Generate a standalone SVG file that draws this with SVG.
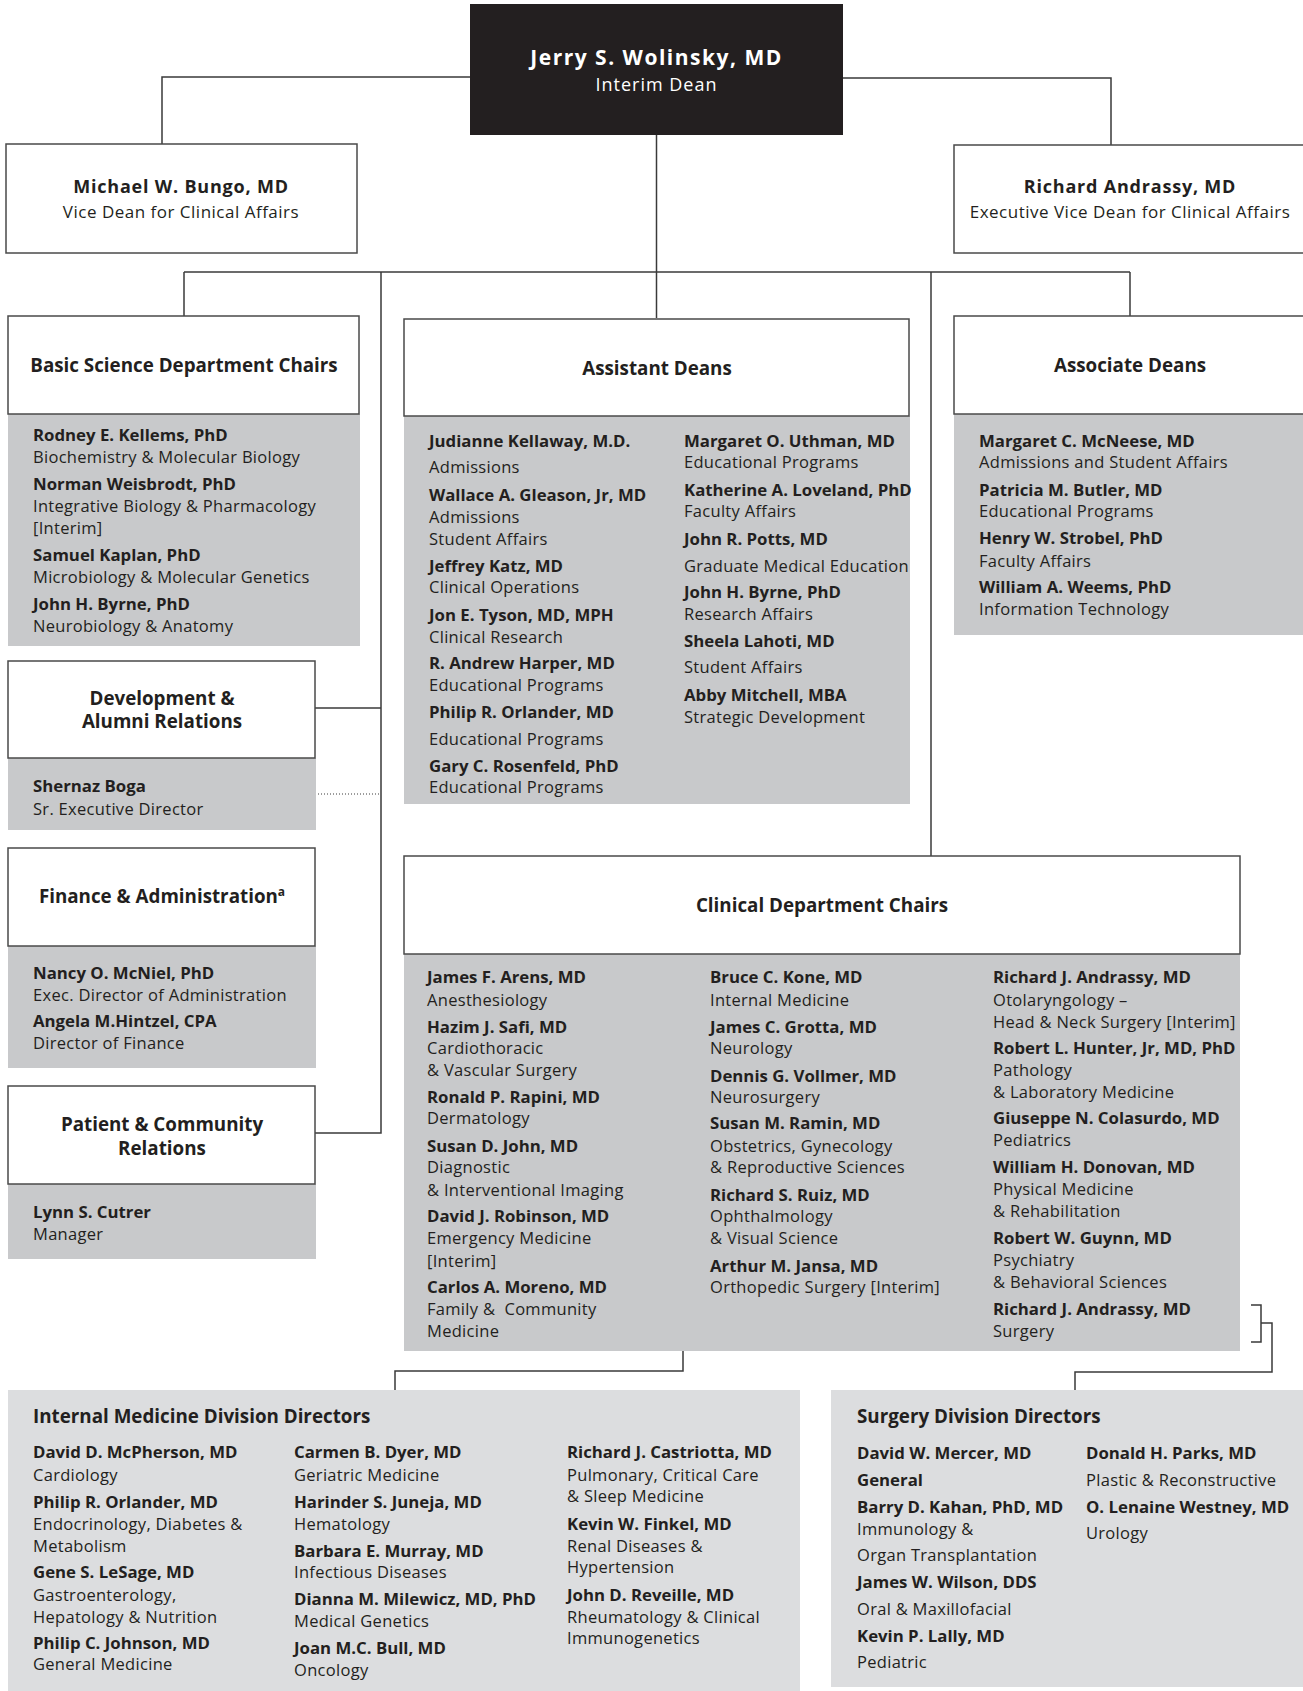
<svg xmlns="http://www.w3.org/2000/svg" width="1303" height="1691" viewBox="0 0 1303 1691">
<style>
text{font-family:"Open Sans","Noto Sans","Liberation Sans",sans-serif;fill:#231f20}
.n{font-size:16.8px;font-weight:bold}
.d{font-size:16.5px;letter-spacing:0.3px}
.t{font-size:18.8px;font-weight:bold}
.c{text-anchor:middle}
.hdr{fill:#fff;stroke:#4a4a4a;stroke-width:1.5}
.body{fill:#c8c9cb}
.div{fill:#dcdddf}
.ln{fill:none;stroke:#3a3a3a;stroke-width:1.5}
</style>
<rect width="1303" height="1691" fill="#fff"/>

<g id="connectors">
<path class="ln" d="M470 77 H162 V144"/>
<path class="ln" d="M843 78 H1111 V145"/>
<path class="ln" d="M656.5 135 V318"/>
<path class="ln" d="M184 272 H1130"/>
<path class="ln" d="M184 272 V316"/>
<path class="ln" d="M1130 272 V316"/>
<path class="ln" d="M381 272 V1133 H315"/>
<path class="ln" d="M381 708 H315"/>
<path class="ln" d="M931 272 V856"/>
<path d="M315 794 H381" fill="none" stroke="#3a3a3a" stroke-width="1" stroke-dasharray="1 2"/>
<path class="ln" d="M706 972 H696 V1008 H706"/>
<path class="ln" d="M696 989 H683 V1371 H395 V1390"/>
<path class="ln" d="M1251 1305 H1261 V1342 H1251"/>
<path class="ln" d="M1261 1323 H1272 V1372 H1075 V1390"/>
</g>

<g id="dean">
<rect x="470" y="4" width="373" height="131" fill="#231f20"/>
<text x="656.5" y="65" class="c" style="font-size:21px;font-weight:bold;fill:#fff;letter-spacing:1.5px">Jerry S. Wolinsky, MD</text>
<text x="656.5" y="91" class="c" style="font-size:18px;fill:#fff;letter-spacing:1px">Interim Dean</text>
</g>

<g id="bungo">
<rect x="6" y="144" width="351" height="109" class="hdr"/>
<text x="181" y="193" class="c" style="font-size:18px;font-weight:bold;letter-spacing:0.8px">Michael W. Bungo, MD</text>
<text x="181" y="218" class="c" style="font-size:17px;letter-spacing:0.5px">Vice Dean for Clinical Affairs</text>
</g>

<g id="andrassy">
<rect x="954" y="145" width="360" height="108" class="hdr"/>
<text x="1130" y="193" class="c" style="font-size:18px;font-weight:bold;letter-spacing:0.8px">Richard Andrassy, MD</text>
<text x="1130" y="218" class="c" style="font-size:17px;letter-spacing:0.5px">Executive Vice Dean for Clinical Affairs</text>
</g>

<g id="basic-science">
<rect x="8" y="414" width="352" height="232" class="body"/>
<rect x="8" y="316" width="351" height="98" class="hdr"/>
<text x="184" y="372" class="t c">Basic Science Department Chairs</text>
<text class="n" x="33" y="441">Rodney E. Kellems, PhD</text>
<text class="d" x="33" y="463">Biochemistry &amp; Molecular Biology</text>
<text class="n" x="33" y="490">Norman Weisbrodt, PhD</text>
<text class="d" x="33" y="512">Integrative Biology &amp; Pharmacology</text>
<text class="d" x="33" y="534">[Interim]</text>
<text class="n" x="33" y="561">Samuel Kaplan, PhD</text>
<text class="d" x="33" y="583">Microbiology &amp; Molecular Genetics</text>
<text class="n" x="33" y="610">John H. Byrne, PhD</text>
<text class="d" x="33" y="632">Neurobiology &amp; Anatomy</text>
</g>

<g id="development">
<rect x="8" y="758" width="308" height="72" class="body"/>
<rect x="8" y="661" width="307" height="97" class="hdr"/>
<text x="162" y="705" class="t c">Development &amp;</text>
<text x="162" y="728" class="t c">Alumni Relations</text>
<text class="n" x="33" y="792">Shernaz Boga</text>
<text class="d" x="33" y="815">Sr. Executive Director</text>
</g>

<g id="finance">
<rect x="8" y="946" width="308" height="122" class="body"/>
<rect x="8" y="848" width="307" height="98" class="hdr"/>
<text x="162" y="903" class="t c">Finance &amp; Administration<tspan style="font-size:12px" dy="-7">a</tspan></text>
<text class="n" x="33" y="979">Nancy O. McNiel, PhD</text>
<text class="d" x="33" y="1001">Exec. Director of Administration</text>
<text class="n" x="33" y="1027">Angela M.Hintzel, CPA</text>
<text class="d" x="33" y="1049">Director of Finance</text>
</g>

<g id="patient">
<rect x="8" y="1184" width="308" height="75" class="body"/>
<rect x="8" y="1086" width="307" height="98" class="hdr"/>
<text x="162" y="1131" class="t c">Patient &amp; Community</text>
<text x="162" y="1155" class="t c">Relations</text>
<text class="n" x="33" y="1218">Lynn S. Cutrer</text>
<text class="d" x="33" y="1240">Manager</text>
</g>

<g id="assistant-deans">
<rect x="404" y="416" width="506" height="388" class="body"/>
<rect x="404" y="319" width="505" height="97" class="hdr"/>
<text x="657" y="375" class="t c">Assistant Deans</text>
<text class="n" x="429" y="447">Judianne Kellaway, M.D.</text>
<text class="d" x="429" y="473">Admissions</text>
<text class="n" x="429" y="501">Wallace A. Gleason, Jr, MD</text>
<text class="d" x="429" y="523">Admissions</text>
<text class="d" x="429" y="545">Student Affairs</text>
<text class="n" x="429" y="572">Jeffrey Katz, MD</text>
<text class="d" x="429" y="593">Clinical Operations</text>
<text class="n" x="429" y="621">Jon E. Tyson, MD, MPH</text>
<text class="d" x="429" y="643">Clinical Research</text>
<text class="n" x="429" y="669">R. Andrew Harper, MD</text>
<text class="d" x="429" y="691">Educational Programs</text>
<text class="n" x="429" y="718">Philip R. Orlander, MD</text>
<text class="d" x="429" y="745">Educational Programs</text>
<text class="n" x="429" y="772">Gary C. Rosenfeld, PhD</text>
<text class="d" x="429" y="793">Educational Programs</text>
<text class="n" x="684" y="447">Margaret O. Uthman, MD</text>
<text class="d" x="684" y="468">Educational Programs</text>
<text class="n" x="684" y="496">Katherine A. Loveland, PhD</text>
<text class="d" x="684" y="517">Faculty Affairs</text>
<text class="n" x="684" y="545">John R. Potts, MD</text>
<text class="d" x="684" y="572">Graduate Medical Education</text>
<text class="n" x="684" y="598">John H. Byrne, PhD</text>
<text class="d" x="684" y="620">Research Affairs</text>
<text class="n" x="684" y="647">Sheela Lahoti, MD</text>
<text class="d" x="684" y="673">Student Affairs</text>
<text class="n" x="684" y="701">Abby Mitchell, MBA</text>
<text class="d" x="684" y="723">Strategic Development</text>
</g>

<g id="associate-deans">
<rect x="954" y="414" width="360" height="221" class="body"/>
<rect x="954" y="316" width="360" height="98" class="hdr"/>
<text x="1130" y="372" class="t c">Associate Deans</text>
<text class="n" x="979" y="447">Margaret C. McNeese, MD</text>
<text class="d" x="979" y="468">Admissions and Student Affairs</text>
<text class="n" x="979" y="496">Patricia M. Butler, MD</text>
<text class="d" x="979" y="517">Educational Programs</text>
<text class="n" x="979" y="544">Henry W. Strobel, PhD</text>
<text class="d" x="979" y="567">Faculty Affairs</text>
<text class="n" x="979" y="593">William A. Weems, PhD</text>
<text class="d" x="979" y="615">Information Technology</text>
</g>

<g id="clinical-chairs">
<rect x="404" y="954" width="836" height="397" class="body"/>
<rect x="404" y="856" width="836" height="98" class="hdr"/>
<text x="822" y="912" class="t c">Clinical Department Chairs</text>
<text class="n" x="427" y="983">James F. Arens, MD</text>
<text class="d" x="427" y="1006">Anesthesiology</text>
<text class="n" x="427" y="1033">Hazim J. Safi, MD</text>
<text class="d" x="427" y="1054">Cardiothoracic</text>
<text class="d" x="427" y="1076">&amp; Vascular Surgery</text>
<text class="n" x="427" y="1103">Ronald P. Rapini, MD</text>
<text class="d" x="427" y="1124">Dermatology</text>
<text class="n" x="427" y="1152">Susan D. John, MD</text>
<text class="d" x="427" y="1173">Diagnostic</text>
<text class="d" x="427" y="1196">&amp; Interventional Imaging</text>
<text class="n" x="427" y="1222">David J. Robinson, MD</text>
<text class="d" x="427" y="1244">Emergency Medicine</text>
<text class="d" x="427" y="1267">[Interim]</text>
<text class="n" x="427" y="1293">Carlos A. Moreno, MD</text>
<text class="d" x="427" y="1315" xml:space="preserve">Family &amp;  Community</text>
<text class="d" x="427" y="1337">Medicine</text>
<text class="n" x="710" y="983">Bruce C. Kone, MD</text>
<text class="d" x="710" y="1006">Internal Medicine</text>
<text class="n" x="710" y="1033">James C. Grotta, MD</text>
<text class="d" x="710" y="1054">Neurology</text>
<text class="n" x="710" y="1082">Dennis G. Vollmer, MD</text>
<text class="d" x="710" y="1103">Neurosurgery</text>
<text class="n" x="710" y="1129">Susan M. Ramin, MD</text>
<text class="d" x="710" y="1152">Obstetrics, Gynecology</text>
<text class="d" x="710" y="1173">&amp; Reproductive Sciences</text>
<text class="n" x="710" y="1201">Richard S. Ruiz, MD</text>
<text class="d" x="710" y="1222">Ophthalmology</text>
<text class="d" x="710" y="1244">&amp; Visual Science</text>
<text class="n" x="710" y="1272">Arthur M. Jansa, MD</text>
<text class="d" x="710" y="1293">Orthopedic Surgery [Interim]</text>
<text class="n" x="993" y="983">Richard J. Andrassy, MD</text>
<text class="d" x="993" y="1006">Otolaryngology –</text>
<text class="d" x="993" y="1028">Head &amp; Neck Surgery [Interim]</text>
<text class="n" x="993" y="1054">Robert L. Hunter, Jr, MD, PhD</text>
<text class="d" x="993" y="1076">Pathology</text>
<text class="d" x="993" y="1098">&amp; Laboratory Medicine</text>
<text class="n" x="993" y="1124">Giuseppe N. Colasurdo, MD</text>
<text class="d" x="993" y="1146">Pediatrics</text>
<text class="n" x="993" y="1173">William H. Donovan, MD</text>
<text class="d" x="993" y="1195">Physical Medicine</text>
<text class="d" x="993" y="1217">&amp; Rehabilitation</text>
<text class="n" x="993" y="1244">Robert W. Guynn, MD</text>
<text class="d" x="993" y="1266">Psychiatry</text>
<text class="d" x="993" y="1288">&amp; Behavioral Sciences</text>
<text class="n" x="993" y="1315">Richard J. Andrassy, MD</text>
<text class="d" x="993" y="1337">Surgery</text>
</g>

<g id="internal-medicine-divisions">
<rect x="8" y="1390" width="792" height="301" class="div"/>
<text class="t" x="33" y="1423">Internal Medicine Division Directors</text>
<text class="n" x="33" y="1458">David D. McPherson, MD</text>
<text class="d" x="33" y="1481">Cardiology</text>
<text class="n" x="33" y="1508">Philip R. Orlander, MD</text>
<text class="d" x="33" y="1530">Endocrinology, Diabetes &amp;</text>
<text class="d" x="33" y="1552">Metabolism</text>
<text class="n" x="33" y="1578">Gene S. LeSage, MD</text>
<text class="d" x="33" y="1601">Gastroenterology,</text>
<text class="d" x="33" y="1623">Hepatology &amp; Nutrition</text>
<text class="n" x="33" y="1649">Philip C. Johnson, MD</text>
<text class="d" x="33" y="1670">General Medicine</text>
<text class="n" x="294" y="1458">Carmen B. Dyer, MD</text>
<text class="d" x="294" y="1481">Geriatric Medicine</text>
<text class="n" x="294" y="1508">Harinder S. Juneja, MD</text>
<text class="d" x="294" y="1530">Hematology</text>
<text class="n" x="294" y="1557">Barbara E. Murray, MD</text>
<text class="d" x="294" y="1578">Infectious Diseases</text>
<text class="n" x="294" y="1605">Dianna M. Milewicz, MD, PhD</text>
<text class="d" x="294" y="1627">Medical Genetics</text>
<text class="n" x="294" y="1654">Joan M.C. Bull, MD</text>
<text class="d" x="294" y="1676">Oncology</text>
<text class="n" x="567" y="1458">Richard J. Castriotta, MD</text>
<text class="d" x="567" y="1481">Pulmonary, Critical Care</text>
<text class="d" x="567" y="1502">&amp; Sleep Medicine</text>
<text class="n" x="567" y="1530">Kevin W. Finkel, MD</text>
<text class="d" x="567" y="1552">Renal Diseases &amp;</text>
<text class="d" x="567" y="1573">Hypertension</text>
<text class="n" x="567" y="1601">John D. Reveille, MD</text>
<text class="d" x="567" y="1623">Rheumatology &amp; Clinical</text>
<text class="d" x="567" y="1644">Immunogenetics</text>
</g>

<g id="surgery-divisions">
<rect x="831" y="1390" width="480" height="297" class="div"/>
<text class="t" x="857" y="1423">Surgery Division Directors</text>
<text class="n" x="857" y="1459">David W. Mercer, MD</text>
<text class="n" x="857" y="1486">General</text>
<text class="n" x="857" y="1513">Barry D. Kahan, PhD, MD</text>
<text class="d" x="857" y="1535">Immunology &amp;</text>
<text class="d" x="857" y="1561">Organ Transplantation</text>
<text class="n" x="857" y="1588">James W. Wilson, DDS</text>
<text class="d" x="857" y="1615">Oral &amp; Maxillofacial</text>
<text class="n" x="857" y="1642">Kevin P. Lally, MD</text>
<text class="d" x="857" y="1668">Pediatric</text>
<text class="n" x="1086" y="1459">Donald H. Parks, MD</text>
<text class="d" x="1086" y="1486">Plastic &amp; Reconstructive</text>
<text class="n" x="1086" y="1513">O. Lenaine Westney, MD</text>
<text class="d" x="1086" y="1539">Urology</text>
</g>
</svg>
